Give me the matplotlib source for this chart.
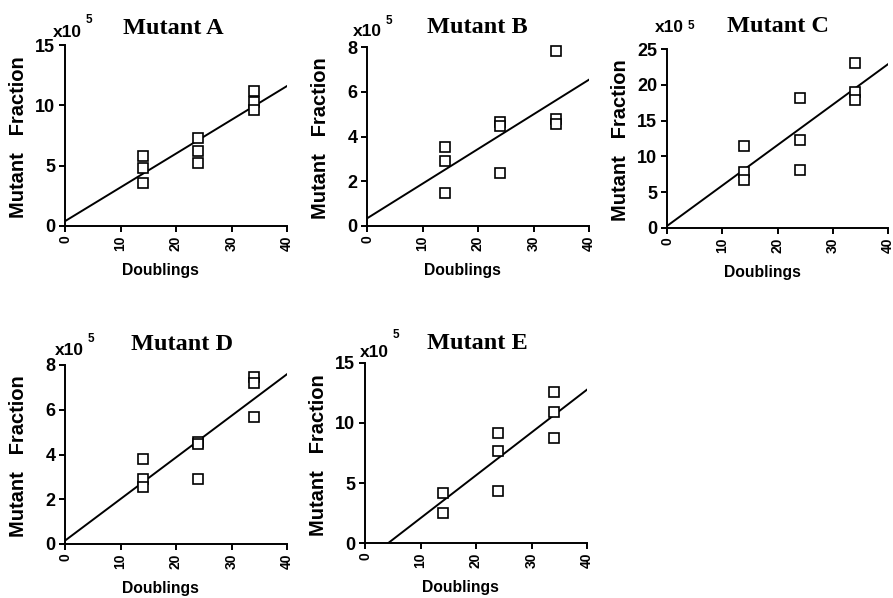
import numpy as np
import matplotlib
matplotlib.use("Agg")
import matplotlib.pyplot as plt

# ---- data (units x10^-5) ----
titles = ["Mutant A", "Mutant B", "Mutant C", "Mutant D", "Mutant E"]

x_a = [14, 14, 14, 24, 24, 24, 34, 34, 34]
y_a = [5.83, 4.78, 3.59, 7.32, 6.22, 5.25, 11.2, 10.3, 9.6]

x_b = [14, 14, 14, 24, 24, 24, 34, 34, 34]
y_b = [3.53, 2.89, 1.46, 4.63, 4.47, 2.35, 7.84, 4.78, 4.56]

x_c = [14, 14, 14, 24, 24, 24, 34, 34, 34]
y_c = [11.5, 7.87, 6.7, 18.2, 12.3, 8.1, 23.1, 19.0, 17.9]

x_d = [14, 14, 14, 24, 24, 24, 34, 34, 34]
y_d = [3.79, 2.89, 2.56, 4.58, 4.48, 2.9, 7.48, 7.21, 5.69]

x_e = [14, 14, 24, 24, 24, 34, 34, 34]
y_e = [4.2, 2.5, 9.2, 7.67, 4.32, 12.55, 10.9, 8.78]

# regression line (intercept, slope)
fit_intercept = [0.4, 0.34, 0.28, 0.15, -1.5]
fit_slope = [0.28, 0.155, 0.565, 0.186, 0.357]

y_max = [15, 8, 25, 8, 15]
y_step = [5, 2, 5, 2, 5]
x_ticks = [0, 10, 20, 30, 40]

xs_all = [x_a, x_b, x_c, x_d, x_e]
ys_all = [y_a, y_b, y_c, y_d, y_e]

# ---- layout (pixels) ----
W, H = 893, 598
PT = 0.72  # points per pixel at dpi 100
boxes = [  # left, top, right, bottom
    (65, 45, 287, 226),
    (367, 47, 589, 226),
    (667, 49, 888, 228),
    (65, 365, 287, 544),
    (365, 363, 587, 543),
]
title_cx = [173, 477, 778, 182, 477]
title_up = [11, 14, 17, 15, 14]
x10_left = [53, 353, 655, 55, 360]
x10_up = [8, 11, 17, 10, 6]
sup_up = [14, 12, 3, 13, 19]

fig = plt.figure(figsize=(W / 100, H / 100), dpi=100)
sans = "Liberation Sans"
serif = "Liberation Serif"

for i in range(5):
    l, t, r, b = boxes[i]
    ax = fig.add_axes([l / W, 1 - b / H, (r - l) / W, (b - t) / H])
    x = np.array(xs_all[i], dtype=float)
    y = np.array(ys_all[i], dtype=float)
    xl = np.linspace(0, 40, 200)
    ax.plot(xl, fit_intercept[i] + fit_slope[i] * xl, color="black", lw=1.4, zorder=2)
    ax.plot(x, y, linestyle="none", marker="s", markersize=7, markerfacecolor="white",
            markeredgecolor="black", markeredgewidth=1.2, clip_on=False, zorder=3)
    ax.set_xlim(0, 40)
    ax.set_ylim(0, y_max[i])
    ax.set_xticks(x_ticks)
    ax.set_yticks(np.arange(0, y_max[i] + 0.01, y_step[i]))
    for s in ("top", "right"):
        ax.spines[s].set_visible(False)
    for s in ("left", "bottom"):
        ax.spines[s].set_linewidth(1.4)
    ax.tick_params(direction="out", length=4, width=1.4, pad=3)
    for lab in ax.get_xticklabels():
        lab.set_rotation(90)
        lab.set_fontfamily(sans)
        lab.set_fontweight("bold")
        lab.set_fontsize(10)
    for lab in ax.get_yticklabels():
        lab.set_fontfamily(sans)
        lab.set_fontweight("bold")
        lab.set_fontsize(13)
    # title
    ax.annotate(titles[i], xy=((title_cx[i] - l) / (r - l), 1), xycoords="axes fraction",
                xytext=(0, title_up[i] * PT), textcoords="offset points",
                fontfamily=serif, fontweight="bold", fontsize=17.5,
                ha="center", va="baseline")
    ax.set_xlabel("Doublings", fontfamily=sans, fontweight="bold", fontsize=11.3)
    ax.xaxis.set_label_coords(0.43, -0.205)
    ax.set_ylabel("Mutant   Fraction", fontfamily=sans, fontweight="bold", fontsize=14.5)
    ax.yaxis.set_label_coords(-0.167, 0.49)
    # x10^5 multiplier
    xf = (x10_left[i] - l) / (r - l)
    ax.annotate("x10", xy=(xf, 1), xycoords="axes fraction",
                xytext=(0, x10_up[i] * PT), textcoords="offset points",
                fontfamily=sans, fontweight="bold", fontsize=12.5,
                ha="left", va="baseline")
    ax.annotate("5", xy=(xf, 1), xycoords="axes fraction",
                xytext=(33 * PT, (x10_up[i] + sup_up[i]) * PT), textcoords="offset points",
                fontfamily=sans, fontweight="bold", fontsize=8.5,
                ha="left", va="baseline")

fig.savefig("out.png", dpi=100)
